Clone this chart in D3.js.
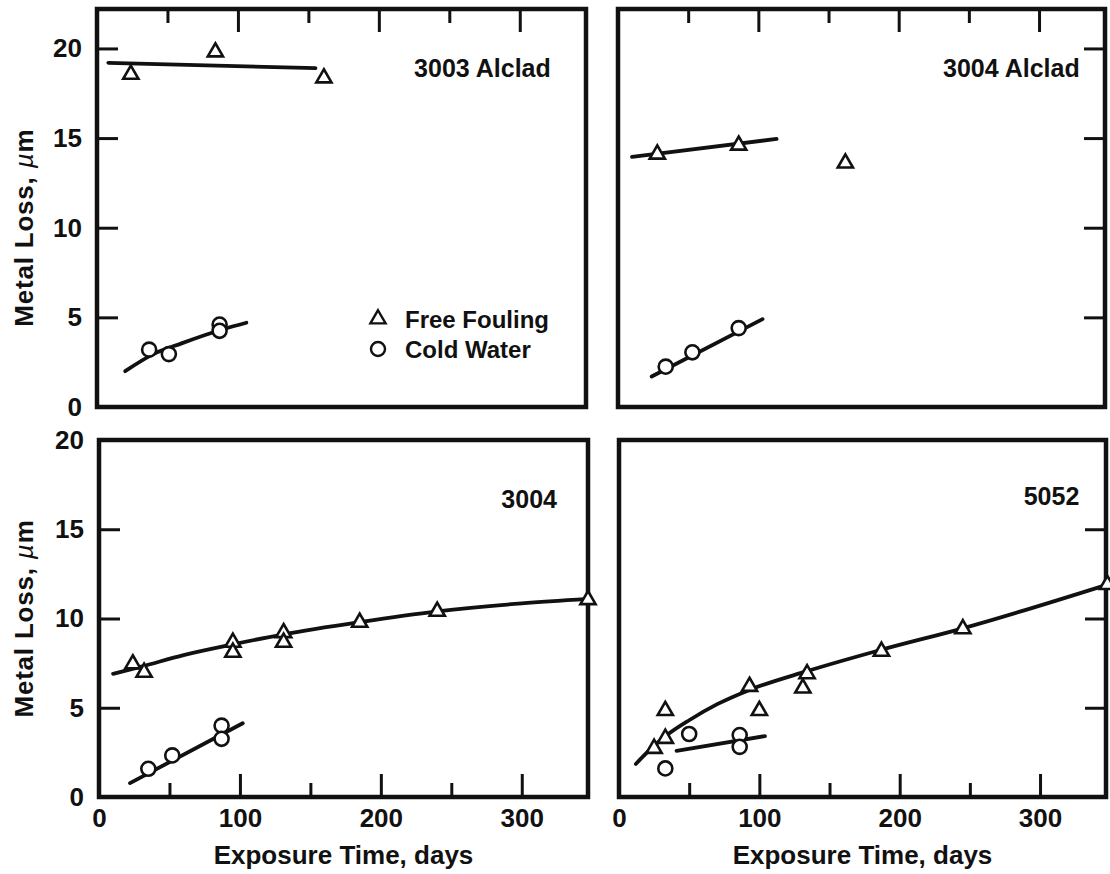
<!DOCTYPE html>
<html>
<head>
<meta charset="utf-8">
<title>Metal Loss vs Exposure Time</title>
<script src="https://cdn.jsdelivr.net/npm/d3@7"></script>
<style>
	body { margin: 0; background: #fff; }
	svg text { font-family: "Liberation Sans", Arial, Helvetica, sans-serif; font-weight: bold; fill: #111; }
</style>
</head>
<body>
<div id="chart"></div>
<script>

// ticks
const xMajor  = [100, 200, 300];
const xMinor  = [50, 150, 250];
const xLabels = [0, 100, 200, 300];
const yTicks  = [5, 10, 15, 20];
const yLabels = [0, 5, 10, 15, 20];

// 3003 Alclad (days, metal loss um)
const a3003FoulDays = [24, 84, 161];
const a3003FoulLoss = [18.55, 19.8, 18.35];
const a3003FoulFitDays = [8, 155];
const a3003FoulFitLoss = [19.2, 18.9];
const a3003ColdDays = [37, 51, 87, 87];
const a3003ColdLoss = [3.2, 2.95, 4.6, 4.25];
const a3003ColdFitDays = [20, 40, 60, 90, 106];
const a3003ColdFitLoss = [2.0, 2.95, 3.55, 4.35, 4.7];

// 3004 Alclad
const a3004FoulDays = [28, 86, 162];
const a3004FoulLoss = [14.1, 14.6, 13.6];
const a3004FoulFitDays = [10, 113];
const a3004FoulFitLoss = [13.95, 14.95];
const a3004ColdDays = [34, 53, 86];
const a3004ColdLoss = [2.25, 3.05, 4.4];
const a3004ColdFitDays = [24, 103];
const a3004ColdFitLoss = [1.7, 4.9];

// 3004
const b3004FoulDays = [24, 32, 95, 95, 131, 131, 185, 240, 347];
const b3004FoulLoss = [7.45, 6.98, 8.66, 8.1, 9.2, 8.66, 9.78, 10.4, 11.05];
const b3004FoulFitDays = [10, 30, 60, 95, 130, 185, 240, 300, 347];
const b3004FoulFitLoss = [6.9, 7.3, 7.95, 8.55, 9.1, 9.8, 10.4, 10.85, 11.1];
const b3004ColdDays = [35, 52, 87, 87];
const b3004ColdLoss = [1.58, 2.33, 4.0, 3.26];
const b3004ColdFitDays = [22, 102];
const b3004ColdFitLoss = [0.78, 4.13];

// 5052
const b5052FoulDays = [25, 33, 33, 93, 100, 131, 134, 187, 245, 348];
const b5052FoulLoss = [2.72, 3.28, 4.84, 6.19, 4.84, 6.1, 6.9, 8.16, 9.42, 11.9];
const b5052FoulFitDays = [12, 20, 33, 50, 70, 93, 134, 187, 245, 348];
const b5052FoulFitLoss = [1.85, 2.5, 3.4, 4.3, 5.2, 6.0, 7.05, 8.25, 9.45, 11.9];
const b5052ColdDays = [33, 50, 86, 86];
const b5052ColdLoss = [1.6, 3.53, 3.47, 2.81];
const b5052ColdFitDays = [41, 104];
const b5052ColdFitLoss = [2.59, 3.41];

const zip = (xs, ys) => xs.map((x, i) => [x, ys[i]]);

const panels = [
	{ name: "3003 Alclad", x0: 97, x1: 586, y0: 9, y1: 407, yMax: 22.2, left: true, top: true, labelDay: 322, labelLoss: 18.9,
	  foul: zip(a3003FoulDays, a3003FoulLoss), foulFit: zip(a3003FoulFitDays, a3003FoulFitLoss),
	  cold: zip(a3003ColdDays, a3003ColdLoss), coldFit: zip(a3003ColdFitDays, a3003ColdFitLoss) },
	{ name: "3004 Alclad", x0: 618, x1: 1105, y0: 9, y1: 407, yMax: 22.2, left: false, top: true, labelDay: 329, labelLoss: 18.9,
	  foul: zip(a3004FoulDays, a3004FoulLoss), foulFit: zip(a3004FoulFitDays, a3004FoulFitLoss),
	  cold: zip(a3004ColdDays, a3004ColdLoss), coldFit: zip(a3004ColdFitDays, a3004ColdFitLoss) },
	{ name: "3004", x0: 99, x1: 588, y0: 440, y1: 797, yMax: 20, left: true, top: false, labelDay: 325, labelLoss: 16.7,
	  foul: zip(b3004FoulDays, b3004FoulLoss), foulFit: zip(b3004FoulFitDays, b3004FoulFitLoss),
	  cold: zip(b3004ColdDays, b3004ColdLoss), coldFit: zip(b3004ColdFitDays, b3004ColdFitLoss) },
	{ name: "5052", x0: 619, x1: 1106, y0: 440, y1: 797, yMax: 20, left: false, top: false, labelDay: 328, labelLoss: 16.85,
	  foul: zip(b5052FoulDays, b5052FoulLoss), foulFit: zip(b5052FoulFitDays, b5052FoulFitLoss),
	  cold: zip(b5052ColdDays, b5052ColdLoss), coldFit: zip(b5052ColdFitDays, b5052ColdFitLoss) },
];

const width = 1110, height = 874;
const xMax = 347;

const svg = d3.select("#chart").append("svg")
	.attr("width", width)
	.attr("height", height)
	.attr("viewBox", [0, 0, width, height]);

const triangle = d3.symbol(d3.symbolTriangle, 100);
const circle = d3.symbol(d3.symbolCircle, 155);

function tickAxis(g, axis) {
	g.call(axis)
		.call(g => g.select(".domain").remove())
		.call(g => g.selectAll(".tick line").attr("stroke", "#111").attr("stroke-width", 3))
		.call(g => g.selectAll(".tick text").remove());
}

panels.forEach(p => {
	const x = d3.scaleLinear([0, xMax], [p.x0, p.x1]);
	const y = d3.scaleLinear([0, p.yMax], [p.y1, p.y0]);
	const g = svg.append("g");

	// x ticks, inside the frame, top or bottom
	const xPos = p.top ? p.y0 : p.y1;
	const xAxisFn = p.top ? d3.axisTop : d3.axisBottom;
	g.append("g").attr("transform", `translate(0,${xPos})`)
		.call(tickAxis, xAxisFn(x).tickValues(xMajor).tickSizeInner(-23).tickSizeOuter(0));
	g.append("g").attr("transform", `translate(0,${xPos})`)
		.call(tickAxis, xAxisFn(x).tickValues(xMinor).tickSizeInner(-14).tickSizeOuter(0));

	// y ticks, inside, left or right
	const yPos = p.left ? p.x0 : p.x1;
	const yAxisFn = p.left ? d3.axisLeft : d3.axisRight;
	g.append("g").attr("transform", `translate(${yPos},0)`)
		.call(tickAxis, yAxisFn(y).tickValues(yTicks.filter(v => y(v) > p.y0 + 3)).tickSizeInner(-21).tickSizeOuter(0));

	if (p.left) {
		g.append("g").attr("transform", `translate(${p.x0},0)`)
			.call(d3.axisLeft(y).tickValues(yLabels).tickSize(0).tickPadding(15))
			.call(g => g.select(".domain").remove())
			.call(g => g.selectAll(".tick text").attr("font-size", 26).attr("fill", "#111"));

		g.append("text")
			.attr("transform", `translate(33,${(y(0) + y(20)) / 2}) rotate(-90)`)
			.attr("text-anchor", "middle")
			.attr("font-size", 26)
			.attr("letter-spacing", 0.8)
			.call(t => t.append("tspan").text("Metal Loss, "))
			.call(t => t.append("tspan").attr("font-style", "italic").attr("font-weight", "normal").text("µ"))
			.call(t => t.append("tspan").text("m"));
	}

	if (!p.top) {
		g.append("g").attr("transform", `translate(0,${p.y1})`)
			.call(d3.axisBottom(x).tickValues(xLabels).tickSize(0).tickPadding(12))
			.call(g => g.select(".domain").remove())
			.call(g => g.selectAll(".tick text").attr("font-size", 26).attr("fill", "#111"));

		g.append("text")
			.attr("x", (p.x0 + p.x1) / 2)
			.attr("y", 864)
			.attr("text-anchor", "middle")
			.attr("font-size", 26)
			.text("Exposure Time, days");
	}

	// frame
	g.append("rect")
		.attr("x", p.x0).attr("y", p.y0)
		.attr("width", p.x1 - p.x0).attr("height", p.y1 - p.y0)
		.attr("fill", "none").attr("stroke", "#111").attr("stroke-width", 4.5);

	// panel name
	g.append("text")
		.attr("x", x(p.labelDay))
		.attr("y", y(p.labelLoss) + 9)
		.attr("text-anchor", "end")
		.attr("font-size", 25)
		.text(p.name);

	// fitted lines
	const line = d3.line().x(d => x(d[0])).y(d => y(d[1])).curve(d3.curveMonotoneX);
	[p.foulFit, p.coldFit].forEach(fit => {
		g.append("path")
			.attr("d", line(fit))
			.attr("fill", "none")
			.attr("stroke", "#111")
			.attr("stroke-width", 3.8)
			.attr("stroke-linecap", "round");
	});

	// markers
	g.selectAll(".tri").data(p.foul).join("path")
		.attr("transform", d => `translate(${x(d[0])},${y(d[1])})`)
		.attr("d", triangle())
		.attr("fill", "#fff").attr("stroke", "#111").attr("stroke-width", 2.6);
	g.selectAll(".circ").data(p.cold).join("path")
		.attr("transform", d => `translate(${x(d[0])},${y(d[1])})`)
		.attr("d", circle())
		.attr("fill", "#fff").attr("stroke", "#111").attr("stroke-width", 2.6);
});

// legend in the first panel
const legend = svg.append("g");
const legendItems = [
	{ label: "Free Fouling", sym: triangle, y: 319 },
	{ label: "Cold Water", sym: circle, y: 349 },
];
legendItems.forEach(it => {
	legend.append("path")
		.attr("transform", `translate(378,${it.y})`)
		.attr("d", it.sym())
		.attr("fill", "#fff").attr("stroke", "#111").attr("stroke-width", 2.4);
	legend.append("text")
		.attr("x", 405).attr("y", it.y + 9)
		.attr("font-size", 24)
		.text(it.label);
});

</script>
</body>
</html>
